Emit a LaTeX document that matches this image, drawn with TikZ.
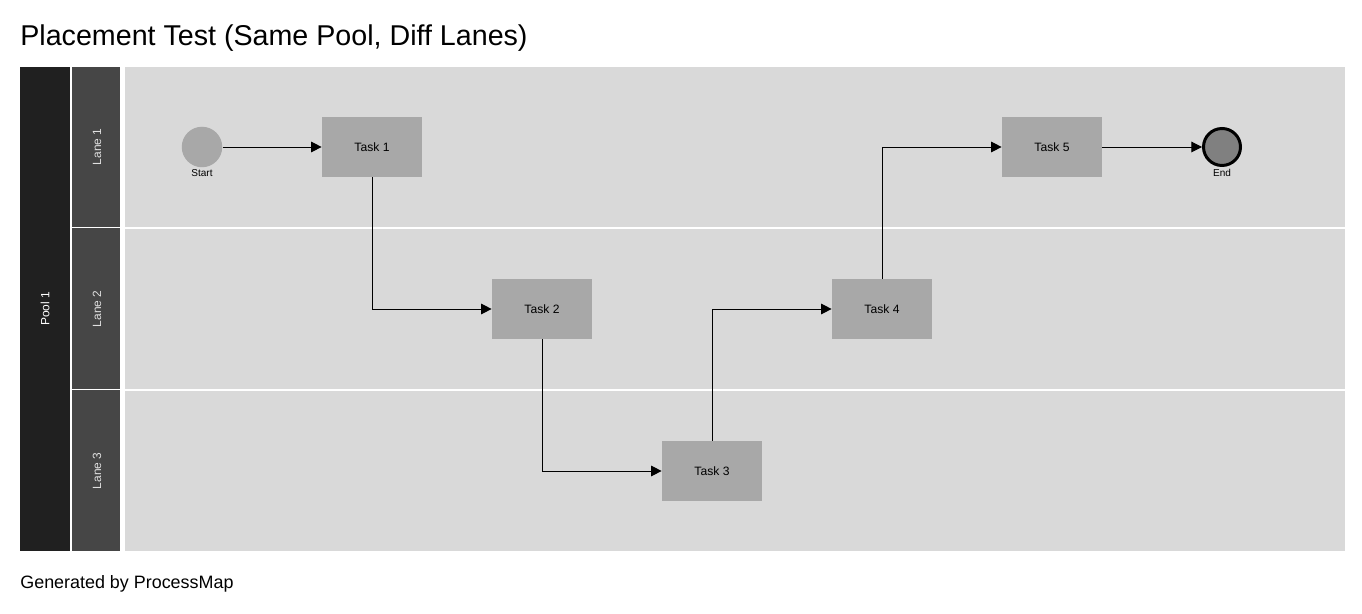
\documentclass[tikz,border=0pt]{standalone}
\usepackage{fontspec}
\setmainfont[Ligatures=NoCommon]{Liberation Sans}
\usetikzlibrary{arrows.meta}
\definecolor{pooldark}{HTML}{202020}
\definecolor{lanehead}{HTML}{464646}
\definecolor{lanebg}{HTML}{D9D9D9}
\definecolor{taskgray}{HTML}{A8A8A8}
\definecolor{endgray}{HTML}{808080}
\begin{document}
\begin{tikzpicture}[
x=0.02cm, y=-0.02cm,
task/.style={fill=taskgray, minimum width=2cm, minimum height=1.2cm, inner sep=0pt, font=\fontsize{6.9}{8}\selectfont},
startev/.style={circle, fill=taskgray, minimum size=0.81cm, inner sep=0pt},
endev/.style={circle, draw=black, line width=1.7pt, fill=endgray, minimum size=0.74cm, inner sep=0pt},
evlbl/.style={inner sep=0pt, font=\fontsize{5.7}{7}\selectfont},
lanelbl/.style={rotate=90, text=white!88!black, inner sep=0pt, font=\fontsize{6.8}{8}\selectfont},
flow/.style={-{Triangle[length=6pt, width=6pt]}, line width=0.55pt}
]
\useasboundingbox (0,0) rectangle (1362,614);

% ---------- TITLE ----------
\node[anchor=west, inner sep=0pt, font=\fontsize{16.3}{19}\selectfont] (title) at (20,38.5) {Placement Test (Same Pool, Diff Lanes)};

% pool
\fill[pooldark] (20,67) rectangle (70,551);
\node[lanelbl, text=white] (pool) at (45,309) {Pool 1};

% lane headers
\fill[lanehead] (72,67) rectangle (120,227.5);
\fill[lanehead] (72,228.5) rectangle (120,389.5);
\fill[lanehead] (72,390.5) rectangle (120,551);
\node[lanelbl] (lane1) at (97,147) {Lane 1};
\node[lanelbl] (lane2) at (97,309) {Lane 2};
\node[lanelbl] (lane3) at (97,471) {Lane 3};

% lane bodies
\fill[lanebg] (125,67) rectangle (1345,551);
\draw[white, line width=0.6pt] (125,228) -- (1345,228);
\draw[white, line width=0.6pt] (125,390) -- (1345,390);

% ---------- FLOW ----------
\node[startev] (start) at (202,147) {};
\node[evlbl] (startlbl) at (202,173) {Start};

\node[task] (t1) at (372,147) {Task 1};
\node[task] (t2) at (542,309) {Task 2};
\node[task] (t3) at (712,471) {Task 3};
\node[task] (t4) at (882,309) {Task 4};
\node[task] (t5) at (1052,147) {Task 5};

\node[endev] (end) at (1222,147) {};
\node[evlbl] (endlbl) at (1222,173) {End};

% connections
\draw[flow] (start) -- (t1);
\draw[flow] (t1) |- (t2);
\draw[flow] (t2) |- (t3);
\draw[flow] (t3) |- (t4);
\draw[flow] (t4) |- (t5);
\draw[flow] (t5) -- (end);

% ---------- FOOTER ----------
\node[anchor=west, inner sep=0pt, font=\fontsize{10.2}{12}\selectfont] (footer) at (20,584) {Generated by ProcessMap};

\end{tikzpicture}
\end{document}
